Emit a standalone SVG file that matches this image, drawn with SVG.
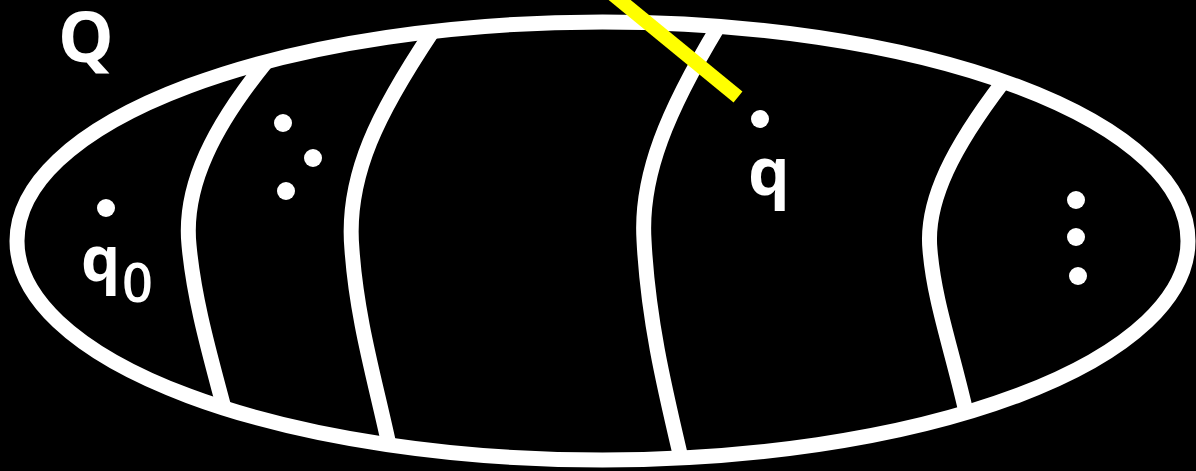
<svg xmlns="http://www.w3.org/2000/svg" width="1196" height="471" viewBox="0 0 1196 471">
<style>
.w{fill:none;stroke:#fff;stroke-width:15}
.d{fill:#fff}
.t{fill:#fff;font-family:"Open Sans","Liberation Sans",Arial,sans-serif;font-weight:bold}
.s{fill:#fff;font-family:"Open Sans","Liberation Sans",Arial,sans-serif;font-weight:600}
</style>
<rect width="1196" height="471" fill="#000"/>
<g id="set">
<ellipse class="w" cx="602.5" cy="241" rx="585.5" ry="219"/>
</g>
<g id="dividers">
<path class="w" d="M266,62 C215,125 183,185 189,245 C194,300 210,355 224,408"/>
<path class="w" d="M432,32 C380,110 345,175 352,250 C357,320 375,380 389,445"/>
<path class="w" d="M718,27 C668,110 640,175 644,240 C648,320 665,390 681,458"/>
<path class="w" d="M1003,82 C955,145 925,200 930,250 C934,300 952,350 966,412"/>
</g>
<g id="q0">
<circle class="d" cx="106" cy="208" r="9"/>
<text class="t" x="81" y="281" font-size="62">q</text>
<text class="s" x="122" y="302" font-size="54">0</text>
</g>
<g id="dots1">
<circle class="d" cx="283" cy="123" r="9"/>
<circle class="d" cx="313" cy="158" r="9"/>
<circle class="d" cx="286" cy="191" r="9"/>
</g>
<g id="q">
<circle class="d" cx="760" cy="119" r="9"/>
<text class="t" x="748" y="195" font-size="66">q</text>
</g>
<g id="dots2">
<circle class="d" cx="1076" cy="200" r="9"/>
<circle class="d" cx="1076" cy="237" r="9"/>
<circle class="d" cx="1078" cy="276" r="9"/>
</g>
<g id="label">
<text class="t" x="58" y="62" font-size="70">Q</text>
</g>
<g id="connectors">
<line x1="605" y1="-12" x2="738" y2="97" stroke="#ffff00" stroke-width="14"/>
</g>
</svg>
